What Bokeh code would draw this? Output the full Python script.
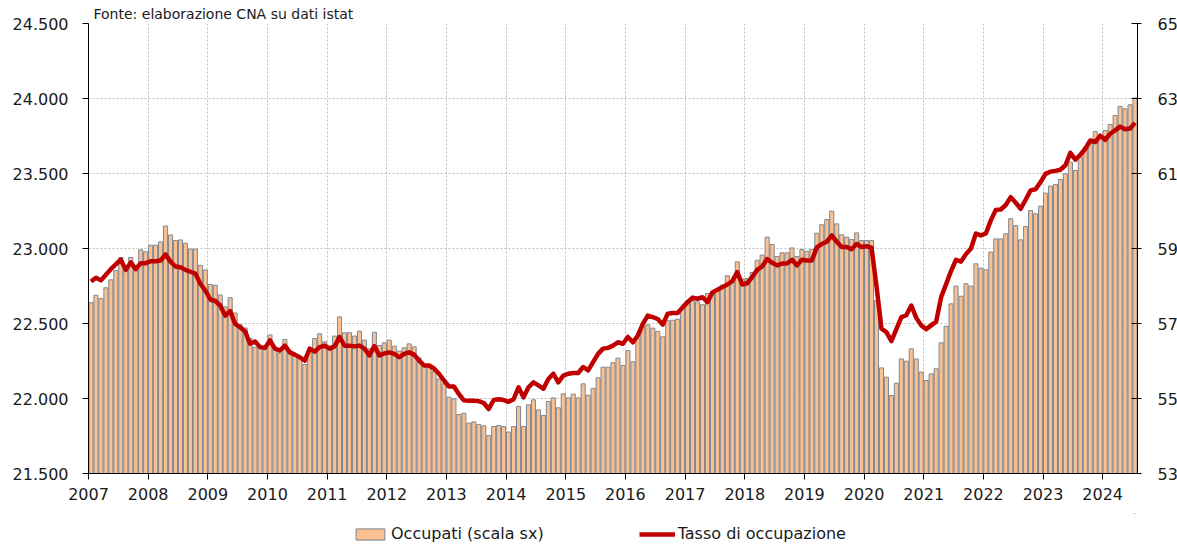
from bokeh.plotting import figure
from bokeh.layouts import column
from bokeh.models import (Range1d, LinearAxis, FixedTicker, Legend, LegendItem,
                          ColumnDataSource)
from bokeh.embed import file_html
from bokeh.resources import INLINE

# ---- data (monthly, Jan 2007 - Jul 2024) ----
anni = list(range(2007, 2025))

occupati = [  # thousands, left axis
    22639, 22688, 22666, 22738, 22791, 22853, 22940, 22866, 22940, 22866, 22991, 22978,  # 2007
    23022, 23022, 23044, 23150, 23090, 23053, 23057, 23035, 22996, 22996, 22888, 22857,  # 2008
    22760, 22755, 22690, 22611, 22672, 22570, 22492, 22470, 22400, 22342, 22340, 22330,  # 2009
    22424, 22327, 22304, 22393, 22316, 22293, 22271, 22227, 22331, 22400, 22431, 22378,  # 2010
    22349, 22416, 22544, 22438, 22438, 22416, 22449, 22389, 22331, 22442, 22353, 22371,  # 2011
    22389, 22349, 22316, 22338, 22364, 22344, 22271, 22230, 22211, 22180, 22130, 22098,  # 2012
    22009, 21998, 21893, 21902, 21836, 21844, 21827, 21818, 21753, 21813, 21820, 21813,  # 2013
    21776, 21813, 21947, 21813, 21958, 21991, 21924, 21887, 21980, 22004, 21938, 22031,  # 2014
    22004, 22029, 22004, 22098, 22022, 22067, 22138, 22209, 22209, 22238, 22269, 22220,  # 2015
    22320, 22245, 22402, 22478, 22491, 22469, 22447, 22411, 22518, 22522, 22529, 22596,  # 2016
    22636, 22651, 22644, 22625, 22700, 22711, 22729, 22756, 22818, 22778, 22911, 22796,  # 2017
    22800, 22840, 22922, 22956, 23076, 23027, 22947, 22971, 22971, 23004, 22947, 22993,  # 2018
    22982, 22993, 23102, 23158, 23193, 23249, 23164, 23091, 23076, 23060, 23104, 23053,  # 2019
    23053, 23053, 22653, 22204, 22142, 22020, 22102, 22264, 22249, 22331, 22264, 22176,  # 2020
    22120, 22164, 22198, 22371, 22482, 22631, 22749, 22682, 22765, 22749, 22898, 22869,  # 2021
    22858, 22976, 23064, 23064, 23098, 23198, 23153, 23058, 23147, 23253, 23231, 23282,  # 2022
    23369, 23416, 23427, 23460, 23498, 23576, 23520, 23609, 23676, 23702, 23780, 23742,  # 2023
    23787, 23827, 23887, 23947, 23931, 23958, 24004,                                     # 2024
]

tasso = [  # %, right axis
    58.12, 58.22, 58.15, 58.30, 58.45, 58.58, 58.70, 58.43, 58.63, 58.45, 58.61, 58.61,  # 2007
    58.66, 58.66, 58.68, 58.84, 58.65, 58.52, 58.50, 58.43, 58.38, 58.33, 58.06, 57.88,  # 2008
    57.64, 57.60, 57.48, 57.21, 57.33, 56.99, 56.90, 56.79, 56.46, 56.52, 56.37, 56.35,  # 2009
    56.55, 56.33, 56.28, 56.41, 56.23, 56.17, 56.10, 56.01, 56.33, 56.25, 56.37, 56.41,  # 2010
    56.33, 56.39, 56.64, 56.41, 56.41, 56.39, 56.41, 56.33, 56.15, 56.40, 56.15, 56.20,  # 2011
    56.23, 56.19, 56.10, 56.19, 56.23, 56.17, 56.01, 55.88, 55.88, 55.80, 55.66, 55.48,  # 2012
    55.32, 55.32, 55.12, 54.95, 54.94, 54.94, 54.93, 54.88, 54.72, 54.96, 54.98, 54.96,  # 2013
    54.91, 54.98, 55.30, 55.03, 55.30, 55.43, 55.35, 55.26, 55.52, 55.66, 55.43, 55.61,  # 2014
    55.66, 55.68, 55.68, 55.84, 55.75, 55.97, 56.19, 56.33, 56.35, 56.41, 56.50, 56.46,  # 2015
    56.64, 56.50, 56.68, 56.99, 57.21, 57.17, 57.12, 56.97, 57.26, 57.28, 57.28, 57.43,  # 2016
    57.57, 57.69, 57.66, 57.70, 57.57, 57.83, 57.90, 57.97, 58.04, 58.13, 58.37, 58.04,  # 2017
    58.07, 58.24, 58.43, 58.52, 58.72, 58.62, 58.55, 58.60, 58.60, 58.70, 58.55, 58.70,  # 2018
    58.68, 58.68, 59.03, 59.12, 59.18, 59.35, 59.18, 59.04, 59.04, 58.98, 59.12, 59.04,  # 2019
    59.06, 59.02, 58.00, 56.86, 56.77, 56.53, 56.85, 57.17, 57.22, 57.48, 57.15, 56.95,  # 2020
    56.85, 56.95, 57.05, 57.70, 58.05, 58.40, 58.70, 58.65, 58.85, 59.00, 59.40, 59.35,  # 2021
    59.40, 59.75, 60.03, 60.04, 60.16, 60.37, 60.22, 60.06, 60.30, 60.55, 60.58, 60.77,  # 2022
    60.99, 61.05, 61.07, 61.10, 61.22, 61.55, 61.37, 61.50, 61.66, 61.88, 61.84, 62.01,  # 2023
    61.90, 62.06, 62.15, 62.25, 62.18, 62.20, 62.35,                                     # 2024
]

tick_sx = [21500, 22000, 22500, 23000, 23500, 24000, 24500]
tick_sx_labels = ["21.500", "22.000", "22.500", "23.000", "23.500", "24.000", "24.500"]
tick_dx = [53, 55, 57, 59, 61, 63, 65]

n = len(occupati)
mesi = [anni[0] + (i + 0.5) / 12 for i in range(n)]
src = ColumnDataSource(dict(x=mesi, occ=occupati, tasso=tasso))

FONT = "DejaVu Sans"
TXT = "#1a1a1a"
BAR_FILL = "#FAC090"
BAR_LINE = "#7d8794"
RED = "#C00000"

p = figure(frame_width=1049, frame_height=450,
           output_backend="svg", toolbar_location=None,
           x_range=Range1d(anni[0], anni[0] + n / 12),
           y_range=Range1d(tick_sx[0], tick_sx[-1]),
           min_border_left=88, min_border_right=40,
           min_border_top=23, min_border_bottom=40)
p.extra_y_ranges = {"rate": Range1d(tick_dx[0], tick_dx[-1])}
p.outline_line_color = None
p.background_fill_color = "white"

# title (source note)
p.title.text = "Fonte: elaborazione CNA su dati istat"
p.title.text_font = FONT
p.title.text_font_size = "14px"
p.title.text_font_style = "normal"
p.title.text_color = TXT
p.title.align = "left"
p.title.offset = 5
p.title.standoff = 3

# grids
p.xgrid.ticker = FixedTicker(ticks=anni)
p.ygrid.ticker = FixedTicker(ticks=tick_sx)
for g in (p.xgrid, p.ygrid):
    g.grid_line_color = "#bdbdbd"
    g.grid_line_dash = "2 2"
    g.grid_line_width = 1

p.vbar(x="x", top="occ", bottom=tick_sx[0], width=0.82 / 12, source=src,
       fill_color=BAR_FILL, line_color=BAR_LINE, line_width=1)
p.line(x="x", y="tasso", source=src, y_range_name="rate",
       line_color=RED, line_width=4.5, line_join="round")

# axes
def style_axis(ax):
    ax.axis_line_color = "black"
    ax.axis_line_width = 1
    ax.major_tick_line_color = "black"
    ax.minor_tick_line_color = None
    ax.major_label_text_font = FONT
    ax.major_label_text_font_size = "16px"
    ax.major_label_text_color = TXT

xa = p.xaxis[0]
xa.ticker = FixedTicker(ticks=anni)
xa.major_label_overrides = {a: str(a) for a in anni}
xa.major_tick_in = 0
xa.major_tick_out = 6
xa.major_label_standoff = 8
style_axis(xa)

ya = p.yaxis[0]
ya.ticker = FixedTicker(ticks=tick_sx)
ya.major_label_overrides = dict(zip(tick_sx, tick_sx_labels))
ya.major_tick_in = 0
ya.major_tick_out = 6
ya.major_label_standoff = 14
style_axis(ya)

ra = LinearAxis(y_range_name="rate", ticker=FixedTicker(ticks=tick_dx))
ra.major_tick_in = 6
ra.major_tick_out = 4
ra.major_label_standoff = 16
style_axis(ra)
p.add_layout(ra, "right")

# legend strip below the chart: same series, drawn out of this strip's view,
# only so that the legend can show their swatches
lf = figure(width=1177, height=31, output_backend="svg", toolbar_location=None,
            x_range=Range1d(0, 1), y_range=Range1d(0, 1),
            x_axis_type=None, y_axis_type=None, min_border=0)
lf.outline_line_color = None
lf.grid.visible = False
r_bar = lf.vbar(x="x", top="occ", bottom=tick_sx[0], width=0.82 / 12, source=src,
                fill_color=BAR_FILL, line_color=BAR_LINE, line_width=1)
r_line = lf.line(x="x", y="tasso", source=src, line_color=RED, line_width=4.5)
leg = Legend(items=[LegendItem(label="Occupati (scala sx)", renderers=[r_bar]),
                    LegendItem(label="Tasso di occupazione", renderers=[r_line])],
             orientation="horizontal", location=(264, 1),
             spacing=95, padding=0, margin=0,
             glyph_width=36, glyph_height=14, label_standoff=3,
             label_text_font=FONT, label_text_font_size="16px",
             label_text_color=TXT,
             border_line_color=None, background_fill_alpha=0)
lf.add_layout(leg, "center")

layout = column(p, lf, spacing=0)
open("out.html", "w").write(file_html(layout, INLINE))
